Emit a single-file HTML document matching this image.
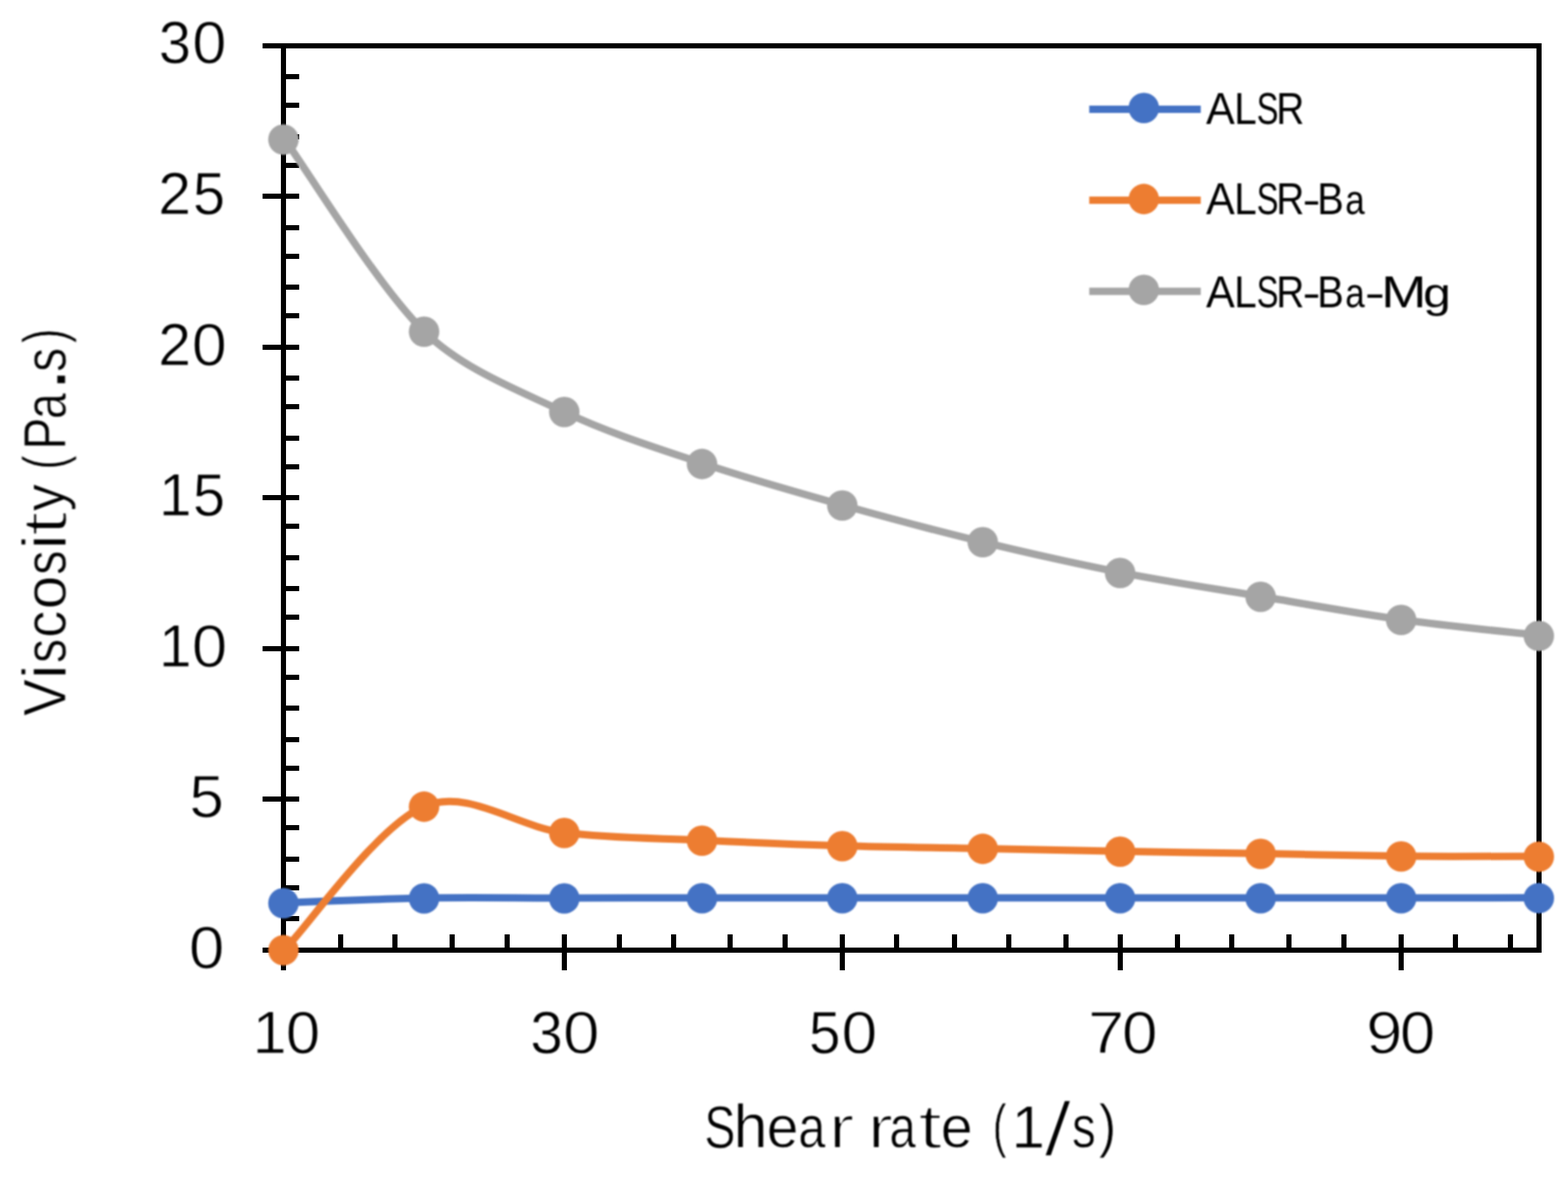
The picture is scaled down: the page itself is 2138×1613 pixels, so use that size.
<!DOCTYPE html>
<html lang="en">
<head>
<meta charset="utf-8">
<title>Viscosity vs shear rate</title>
<style>
html,body{margin:0;padding:0;background:#ffffff;}
body{width:2138px;height:1613px;overflow:hidden;}
svg{display:block;}
</style>
</head>
<body>
<svg width="2138" height="1613" viewBox="0 0 2138 1613">
<defs><filter id="soft" x="-2%" y="-2%" width="104%" height="104%" color-interpolation-filters="sRGB"><feGaussianBlur stdDeviation="1.0"/></filter><filter id="softa" x="-2%" y="-2%" width="104%" height="104%" color-interpolation-filters="sRGB"><feGaussianBlur stdDeviation="0.45"/></filter><filter id="softt" x="-2%" y="-2%" width="104%" height="104%" color-interpolation-filters="sRGB"><feGaussianBlur stdDeviation="0.9"/></filter></defs>
<rect width="2138" height="1613" fill="#ffffff"/>
<g fill="#000000" shape-rendering="crispEdges" filter="url(#softa)">
<rect x="358.2" y="58.85" width="1743.6" height="7"/>
<rect x="358.2" y="1292.05" width="1743.6" height="7"/>
<rect x="383.1" y="58.85" width="7" height="1264.35"/>
<rect x="2094.8" y="58.85" width="7" height="1240.2"/>
<rect x="386.6" y="101.2" width="21.4" height="7"/>
<rect x="386.6" y="140.1" width="21.4" height="7"/>
<rect x="386.6" y="182.5" width="21.4" height="7"/>
<rect x="386.6" y="222" width="21.4" height="7"/>
<rect x="358.2" y="264.3" width="49.8" height="7"/>
<rect x="386.6" y="306.7" width="21.4" height="7"/>
<rect x="386.6" y="345.7" width="21.4" height="7"/>
<rect x="386.6" y="388.1" width="21.4" height="7"/>
<rect x="386.6" y="427.2" width="21.4" height="7"/>
<rect x="358.2" y="469.8" width="49.8" height="7"/>
<rect x="386.6" y="512.3" width="21.4" height="7"/>
<rect x="386.6" y="551.4" width="21.4" height="7"/>
<rect x="386.6" y="593.8" width="21.4" height="7"/>
<rect x="386.6" y="632.7" width="21.4" height="7"/>
<rect x="358.2" y="675.2" width="49.8" height="7"/>
<rect x="386.6" y="714.3" width="21.4" height="7"/>
<rect x="386.6" y="756.9" width="21.4" height="7"/>
<rect x="386.6" y="799.2" width="21.4" height="7"/>
<rect x="386.6" y="838.3" width="21.4" height="7"/>
<rect x="358.2" y="880.7" width="49.8" height="7"/>
<rect x="386.6" y="919.8" width="21.4" height="7"/>
<rect x="386.6" y="962.3" width="21.4" height="7"/>
<rect x="386.6" y="1004.7" width="21.4" height="7"/>
<rect x="386.6" y="1043.8" width="21.4" height="7"/>
<rect x="358.2" y="1086.3" width="49.8" height="7"/>
<rect x="386.6" y="1125.4" width="21.4" height="7"/>
<rect x="386.6" y="1168" width="21.4" height="7"/>
<rect x="386.6" y="1206.9" width="21.4" height="7"/>
<rect x="386.6" y="1249.4" width="21.4" height="7"/>
<rect x="386.6" y="1292.05" width="21.4" height="7"/>
<rect x="460.7" y="1274.2" width="7" height="21.35"/>
<rect x="535.2" y="1274.2" width="7" height="21.35"/>
<rect x="613.1" y="1274.2" width="7" height="21.35"/>
<rect x="687.9" y="1274.2" width="7" height="21.35"/>
<rect x="766.1" y="1274.2" width="7" height="21.35"/>
<rect x="840.6" y="1274.2" width="7" height="21.35"/>
<rect x="914.7" y="1274.2" width="7" height="21.35"/>
<rect x="992.4" y="1274.2" width="7" height="21.35"/>
<rect x="1067" y="1274.2" width="7" height="21.35"/>
<rect x="1145" y="1274.2" width="7" height="21.35"/>
<rect x="1219.3" y="1274.2" width="7" height="21.35"/>
<rect x="1297.7" y="1274.2" width="7" height="21.35"/>
<rect x="1371.9" y="1274.2" width="7" height="21.35"/>
<rect x="1449.8" y="1274.2" width="7" height="21.35"/>
<rect x="1524" y="1274.2" width="7" height="21.35"/>
<rect x="1602.3" y="1274.2" width="7" height="21.35"/>
<rect x="1676.2" y="1274.2" width="7" height="21.35"/>
<rect x="1754.4" y="1274.2" width="7" height="21.35"/>
<rect x="1828.9" y="1274.2" width="7" height="21.35"/>
<rect x="1907" y="1274.2" width="7" height="21.35"/>
<rect x="1981.3" y="1274.2" width="7" height="21.35"/>
<rect x="2055.8" y="1274.2" width="7" height="21.35"/>
<rect x="766.1" y="1295.55" width="7" height="27.65"/>
<rect x="1145" y="1295.55" width="7" height="27.65"/>
<rect x="1524" y="1295.55" width="7" height="27.65"/>
<rect x="1907" y="1295.55" width="7" height="27.65"/>
</g>
<g filter="url(#soft)">
<path d="M388 1231 C419.71 1229.92 514.83 1225.58 578.24 1224.5 C641.64 1223.42 705.07 1224.55 768.48 1224.5 C831.89 1224.45 895.31 1224.25 958.72 1224.2 C1022.13 1224.15 1085.55 1224.2 1148.96 1224.2 C1212.37 1224.2 1275.79 1224.2 1339.2 1224.2 C1402.61 1224.2 1466.03 1224.2 1529.44 1224.2 C1592.85 1224.2 1656.27 1224.2 1719.68 1224.2 C1783.09 1224.2 1846.51 1224.22 1909.92 1224.2 C1973.33 1224.18 2068.45 1224.12 2100.16 1224.1" fill="none" stroke="#4472C4" stroke-width="10" stroke-linejoin="round" stroke-linecap="round"/>
<g fill="#4472C4"><circle cx="386.5" cy="1231.5" r="20.8"/><circle cx="578.2" cy="1225" r="20.8"/><circle cx="769.4" cy="1225" r="20.8"/><circle cx="957.2" cy="1224.7" r="20.8"/><circle cx="1148.5" cy="1224.7" r="20.8"/><circle cx="1340" cy="1224.7" r="20.8"/><circle cx="1527.3" cy="1224.7" r="20.8"/><circle cx="1718.9" cy="1224.7" r="20.8"/><circle cx="1910.5" cy="1224.7" r="20.8"/><circle cx="2098.2" cy="1224.6" r="20.8"/></g>
<path d="M388 1295.1 C419.71 1262.48 514.83 1126.03 578.24 1099.4 C637.74 1074.41 705.07 1127.57 768.48 1135.3 C831.52 1142.99 895.31 1142.8 958.72 1145.8 C1022.11 1148.8 1085.55 1151.45 1148.96 1153.3 C1212.36 1155.15 1275.79 1155.65 1339.2 1156.9 C1402.61 1158.15 1466.03 1159.65 1529.44 1160.8 C1592.85 1161.95 1656.27 1162.72 1719.68 1163.8 C1783.09 1164.88 1846.51 1166.67 1909.92 1167.3 C1973.33 1167.93 2068.45 1167.55 2100.16 1167.6" fill="none" stroke="#ED7D31" stroke-width="10" stroke-linejoin="round" stroke-linecap="round"/>
<g fill="#ED7D31"><circle cx="386.5" cy="1295.6" r="20.8"/><circle cx="578.2" cy="1099.9" r="20.8"/><circle cx="769.4" cy="1135.8" r="20.8"/><circle cx="957.2" cy="1146.3" r="20.8"/><circle cx="1148.5" cy="1153.8" r="20.8"/><circle cx="1340" cy="1157.4" r="20.8"/><circle cx="1527.3" cy="1161.3" r="20.8"/><circle cx="1718.9" cy="1164.3" r="20.8"/><circle cx="1910.5" cy="1167.8" r="20.8"/><circle cx="2098.2" cy="1168.1" r="20.8"/></g>
<path d="M388 189.7 C419.71 233.38 514.83 389.87 578.24 451.8 C630.58 502.92 705.07 531.25 768.48 561.3 C829.62 590.27 895.31 610.85 958.72 632.1 C1021.46 653.12 1085.55 671.02 1148.96 688.8 C1212.09 706.5 1275.79 723.47 1339.2 738.8 C1402.32 754.06 1466.03 768.38 1529.44 780.8 C1592.57 793.16 1656.27 802.65 1719.68 813.3 C1783.06 823.95 1846.51 835.83 1909.92 844.7 C1973.13 853.54 2068.45 862.87 2100.16 866.5" fill="none" stroke="#A5A5A5" stroke-width="10" stroke-linejoin="round" stroke-linecap="round"/>
<g fill="#A5A5A5"><circle cx="386.5" cy="190.2" r="20.8"/><circle cx="578.2" cy="452.3" r="20.8"/><circle cx="769.4" cy="561.8" r="20.8"/><circle cx="957.2" cy="632.6" r="20.8"/><circle cx="1148.5" cy="689.3" r="20.8"/><circle cx="1340" cy="739.3" r="20.8"/><circle cx="1527.3" cy="781.3" r="20.8"/><circle cx="1718.9" cy="813.8" r="20.8"/><circle cx="1910.5" cy="845.2" r="20.8"/><circle cx="2098.2" cy="867" r="20.8"/></g>
<line x1="1485.2" y1="149" x2="1637.3" y2="149" stroke="#4472C4" stroke-width="10"/>
<circle cx="1559.6" cy="147.3" r="20.8" fill="#4472C4"/>
<line x1="1485.2" y1="273" x2="1637.3" y2="273" stroke="#ED7D31" stroke-width="10"/>
<circle cx="1559.6" cy="271.4" r="20.8" fill="#ED7D31"/>
<line x1="1485.2" y1="397.2" x2="1637.3" y2="397.2" stroke="#A5A5A5" stroke-width="10"/>
<circle cx="1559.6" cy="395.3" r="20.8" fill="#A5A5A5"/>
</g>
<g filter="url(#softt)" font-family='"Liberation Sans", Arial, sans-serif' font-size="100" fill="#000000" stroke="#ffffff" stroke-linejoin="round">
<text transform="scale(0.8085 0.8085)" stroke-width="1.11"><tspan x="267.9" y="106.93" textLength="54.45" lengthAdjust="spacingAndGlyphs">3</tspan><tspan x="324.5" y="106.93" textLength="57.4" lengthAdjust="spacingAndGlyphs" stroke-width="1.28">0</tspan></text>
<text transform="scale(0.8085 0.8085)" stroke-width="1.11"><tspan x="266.72" y="361.37" textLength="55.34" lengthAdjust="spacingAndGlyphs">2</tspan><tspan x="325.3" y="361.37" textLength="54.31" lengthAdjust="spacingAndGlyphs">5</tspan></text>
<text transform="scale(0.8085 0.8085)" stroke-width="1.11"><tspan x="266.72" y="615.56" textLength="55.34" lengthAdjust="spacingAndGlyphs">2</tspan><tspan x="323.44" y="615.56" textLength="59.03" lengthAdjust="spacingAndGlyphs" stroke-width="1.43">0</tspan></text>
<text transform="scale(0.8085 0.8085)" stroke-width="1.11"><tspan x="268.11" y="870" textLength="55.03" lengthAdjust="spacingAndGlyphs">1</tspan><tspan x="325.3" y="870" textLength="54.31" lengthAdjust="spacingAndGlyphs">5</tspan></text>
<text transform="scale(0.8085 0.8085)" stroke-width="1.11"><tspan x="268.11" y="1124.19" textLength="55.03" lengthAdjust="spacingAndGlyphs">1</tspan><tspan x="323.35" y="1124.19" textLength="59.84" lengthAdjust="spacingAndGlyphs" stroke-width="1.51">0</tspan></text>
<text transform="scale(0.8085 0.8085)" stroke-width="1.11"><tspan x="319.58" y="1378.25" textLength="58.21" lengthAdjust="spacingAndGlyphs" stroke-width="1.36">5</tspan></text>
<text transform="scale(0.8085 0.8085)" stroke-width="1.11"><tspan x="318.63" y="1632.07" textLength="60" lengthAdjust="spacingAndGlyphs" stroke-width="1.52">0</tspan></text>
<text transform="scale(0.8085 0.8085)" stroke-width="1.11"><tspan x="425.82" y="1776.67" textLength="57.86" lengthAdjust="spacingAndGlyphs" stroke-width="1.32">1</tspan><tspan x="482.15" y="1776.67" textLength="57.89" lengthAdjust="spacingAndGlyphs" stroke-width="1.33">0</tspan></text>
<text transform="scale(0.8085 0.8085)" stroke-width="1.11"><tspan x="894.24" y="1776.67" textLength="55.03" lengthAdjust="spacingAndGlyphs">3</tspan><tspan x="949.23" y="1776.67" textLength="61.95" lengthAdjust="spacingAndGlyphs" stroke-width="1.71">0</tspan></text>
<text transform="scale(0.8085 0.8085)" stroke-width="1.11"><tspan x="1364.15" y="1776.67" textLength="53.3" lengthAdjust="spacingAndGlyphs">5</tspan><tspan x="1419.05" y="1776.67" textLength="60.65" lengthAdjust="spacingAndGlyphs" stroke-width="1.58">0</tspan></text>
<text transform="scale(0.8085 0.8085)" stroke-width="1.11"><tspan x="1834.85" y="1776.67" textLength="61.27" lengthAdjust="spacingAndGlyphs" stroke-width="1.64">7</tspan><tspan x="1892.11" y="1776.67" textLength="60.17" lengthAdjust="spacingAndGlyphs" stroke-width="1.54">0</tspan></text>
<text transform="scale(0.8085 0.8085)" stroke-width="1.11"><tspan x="2304.07" y="1776.67" textLength="61.29" lengthAdjust="spacingAndGlyphs" stroke-width="1.64">9</tspan><tspan x="2360.97" y="1776.67" textLength="59.68" lengthAdjust="spacingAndGlyphs" stroke-width="1.49">0</tspan></text>
<text transform="scale(0.8246 0.8246)" stroke-width="1.09"><tspan x="1164.88" y="1897.5" textLength="51.2" lengthAdjust="spacingAndGlyphs">S</tspan><tspan x="1213.06" y="1897.5" textLength="56.04" lengthAdjust="spacingAndGlyphs" font-size="101.7">h</tspan><tspan x="1268.02" y="1897.27" textLength="52.36" lengthAdjust="spacingAndGlyphs" font-size="95.91">e</tspan><tspan x="1320.06" y="1897.27" textLength="44.7" lengthAdjust="spacingAndGlyphs" font-size="95.91">a</tspan><tspan x="1370.36" y="1898.22" textLength="42.3" lengthAdjust="spacingAndGlyphs" font-size="99.01" stroke-width="2.53">r</tspan> <tspan x="1434.68" y="1898.21" textLength="42.1" lengthAdjust="spacingAndGlyphs" font-size="98.96" stroke-width="2.51">r</tspan><tspan x="1470.75" y="1897.27" textLength="43.64" lengthAdjust="spacingAndGlyphs" font-size="95.91">a</tspan><tspan x="1518.16" y="1898.2" textLength="40.12" lengthAdjust="spacingAndGlyphs" font-size="103.42" stroke-width="3.11">t</tspan><tspan x="1555.75" y="1897.27" textLength="52.79" lengthAdjust="spacingAndGlyphs" font-size="95.91">e</tspan> <tspan x="1641.69" y="1894.29" textLength="22.55" lengthAdjust="spacingAndGlyphs" font-size="97.27">(</tspan><tspan x="1672.6" y="1897.5" textLength="55.37" lengthAdjust="spacingAndGlyphs">1</tspan><tspan x="1726.37" y="1910.2" textLength="45.5" lengthAdjust="spacingAndGlyphs" font-size="126.77" stroke-width="3.32">/</tspan><tspan x="1772.55" y="1897.26" textLength="39.17" lengthAdjust="spacingAndGlyphs" font-size="96.79">s</tspan><tspan x="1817.09" y="1894.29" textLength="28.58" lengthAdjust="spacingAndGlyphs" font-size="97.27">)</tspan></text>
<text transform="rotate(-90) scale(0.8246 0.8246)" stroke-width="1.09"><tspan x="-1183.95" y="108.47" textLength="60.88" lengthAdjust="spacingAndGlyphs">V</tspan><tspan x="-1125.39" y="109.12" textLength="29.25" lengthAdjust="spacingAndGlyphs" font-size="103.65" stroke-width="2.47">i</tspan><tspan x="-1096.38" y="108.23" textLength="39.72" lengthAdjust="spacingAndGlyphs" font-size="96.79">s</tspan><tspan x="-1054.35" y="108.24" textLength="44.56" lengthAdjust="spacingAndGlyphs" font-size="95.91">c</tspan><tspan x="-1007.68" y="108.35" textLength="56.08" lengthAdjust="spacingAndGlyphs" font-size="96.34" stroke-width="1.33">o</tspan><tspan x="-950.4" y="108.23" textLength="40.14" lengthAdjust="spacingAndGlyphs" font-size="96.79">s</tspan><tspan x="-910.29" y="109.06" textLength="28.67" lengthAdjust="spacingAndGlyphs" font-size="103.5" stroke-width="2.35">i</tspan><tspan x="-886.7" y="109.27" textLength="41.4" lengthAdjust="spacingAndGlyphs" font-size="103.74" stroke-width="3.31">t</tspan><tspan x="-845.36" y="105.58" textLength="44.79" lengthAdjust="spacingAndGlyphs" font-size="94.04">y</tspan> <tspan x="-776.48" y="105.26" textLength="23.32" lengthAdjust="spacingAndGlyphs" font-size="97.27">(</tspan><tspan x="-743.74" y="108.47" textLength="53.22" lengthAdjust="spacingAndGlyphs">P</tspan><tspan x="-693.17" y="108.24" textLength="42.98" lengthAdjust="spacingAndGlyphs" font-size="95.91">a</tspan><tspan x="-647.39" y="108.47" textLength="39.72" lengthAdjust="spacingAndGlyphs" font-size="132.81">.</tspan><tspan x="-614.95" y="108.23" textLength="39.59" lengthAdjust="spacingAndGlyphs" font-size="96.79">s</tspan><tspan x="-567.21" y="105.26" textLength="23.92" lengthAdjust="spacingAndGlyphs" font-size="97.27">)</tspan></text>
</g>
<g filter="url(#softt)" font-family='"Liberation Sans", Arial, sans-serif' font-size="100" fill="#000000" stroke="#ffffff" stroke-linejoin="round">
<text transform="scale(0.6087 0.6087)" stroke-width="0"><tspan x="2701.69" y="276.82" textLength="64.25" lengthAdjust="spacingAndGlyphs">A</tspan><tspan x="2764.7" y="276.82" textLength="50.71" lengthAdjust="spacingAndGlyphs">L</tspan><tspan x="2815.03" y="276.82" textLength="48.79" lengthAdjust="spacingAndGlyphs">S</tspan><tspan x="2859.01" y="276.82" textLength="62.74" lengthAdjust="spacingAndGlyphs">R</tspan></text>
<text transform="scale(0.6087 0.6087)" stroke-width="0"><tspan x="2701.69" y="480.21" textLength="64.25" lengthAdjust="spacingAndGlyphs">A</tspan><tspan x="2764.7" y="480.21" textLength="50.71" lengthAdjust="spacingAndGlyphs">L</tspan><tspan x="2815.03" y="480.21" textLength="48.79" lengthAdjust="spacingAndGlyphs">S</tspan><tspan x="2859.01" y="480.21" textLength="62.74" lengthAdjust="spacingAndGlyphs">R</tspan><tspan x="2917.84" y="480.1" textLength="40.42" lengthAdjust="spacingAndGlyphs" font-size="94.46">-</tspan><tspan x="2950.65" y="480.21" textLength="59.6" lengthAdjust="spacingAndGlyphs">B</tspan><tspan x="3013.24" y="480.08" textLength="43.71" lengthAdjust="spacingAndGlyphs" font-size="94.39">a</tspan></text>
<text transform="scale(0.6087 0.6087)" stroke-width="0"><tspan x="2701.69" y="689.01" textLength="64.25" lengthAdjust="spacingAndGlyphs">A</tspan><tspan x="2764.7" y="689.01" textLength="50.71" lengthAdjust="spacingAndGlyphs">L</tspan><tspan x="2815.03" y="689.01" textLength="48.79" lengthAdjust="spacingAndGlyphs">S</tspan><tspan x="2859.01" y="689.01" textLength="62.74" lengthAdjust="spacingAndGlyphs">R</tspan><tspan x="2917.84" y="688.91" textLength="40.42" lengthAdjust="spacingAndGlyphs" font-size="94.46">-</tspan><tspan x="2950.65" y="689.01" textLength="59.6" lengthAdjust="spacingAndGlyphs">B</tspan><tspan x="3013.24" y="688.89" textLength="43.71" lengthAdjust="spacingAndGlyphs" font-size="94.39">a</tspan><tspan x="3057.09" y="688.91" textLength="45.78" lengthAdjust="spacingAndGlyphs" font-size="94.46">-</tspan><tspan x="3094.1" y="689.01" textLength="101.52" lengthAdjust="spacingAndGlyphs">M</tspan><tspan x="3187.93" y="687.94" textLength="62.13" lengthAdjust="spacingAndGlyphs" font-size="93.5">g</tspan></text>
</g>
</svg>
</body>
</html>
